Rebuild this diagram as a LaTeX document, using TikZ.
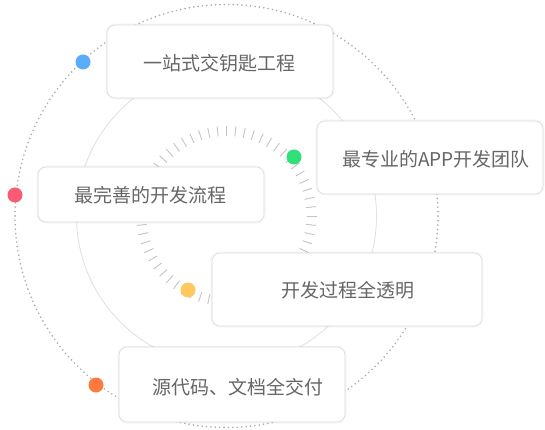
\documentclass[tikz,border=0pt]{standalone}
\usepackage{fontspec}
\newfontfamily\cjk{Noto Sans CJK SC}
\definecolor{txt}{HTML}{666666}
\definecolor{boxline}{HTML}{DADADA}
\definecolor{dotgray}{HTML}{ABABAB}
\definecolor{ringgray}{HTML}{E0E0E0}
\definecolor{tickgray}{HTML}{C4C4C4}
\definecolor{cblue}{HTML}{5AADFD}
\definecolor{cred}{HTML}{FA5A72}
\definecolor{cgreen}{HTML}{2FDF78}
\definecolor{cyellow}{HTML}{FFC95F}
\definecolor{corange}{HTML}{FF7A3F}
\begin{document}
\begin{tikzpicture}[x=1pt,y=-1pt,
  infobox/.style={draw=boxline, line width=0.6pt, fill=white, rounded corners=8pt,
    minimum width=226pt, minimum height=73pt, inner sep=0pt,
    preaction={draw=black, draw opacity=0.03, line width=3pt, fill=none}},
  lbl/.style={font=\cjk\fontsize{19}{21}\selectfont, text=txt, inner sep=0pt},
  marker/.style={circle, inner sep=0pt, minimum size=15pt},
  dotring/.style={draw=dotgray, line width=1.8pt, line cap=round, dash pattern=on 0pt off 4.4pt},
  midring/.style={draw=ringgray, line width=0.8pt},
  tickmark/.style={draw=tickgray, line width=0.9pt}
]
\useasboundingbox (0,0) rectangle (545,430);
\fill[white] (0,0) rectangle (545,430);
\coordinate (c) at (226.5,216);
% outer dotted ring
\draw[dotring] (c) circle[radius=211.5pt];
% middle thin ring
\draw[midring] (c) circle[radius=150pt];
% tick ring
\foreach \a in {0,6,...,354}
  \draw[tickmark] (c) ++(\a:80pt) -- ++(\a:10pt);
% boxes
\node[infobox] (b1) at (220,61.5) {};
\node[infobox] (b2) at (430,157.5) {};
\node[infobox, minimum height=55pt] (b3) at (151,194.5) {};
\node[infobox, minimum width=270pt] (b4) at (347,289.5) {};
\node[infobox, minimum height=75pt] (b5) at (232,384.5) {};
% labels
\node[lbl] (t1) at (219,63) {一站式交钥匙工程};
\node[lbl] (t2) at (436,159) {最专业的APP开发团队};
\node[lbl] (t3) at (150,195) {最完善的开发流程};
\node[lbl] (t4) at (348,290) {开发过程全透明};
\node[lbl] (t5) at (238,387) {源代码、文档全交付};
% coloured markers
\node[marker, fill=cblue] (m1) at (83,62) {};
\node[marker, fill=cgreen] (m2) at (294,157) {};
\node[marker, fill=cred] (m3) at (15,195) {};
\node[marker, fill=cyellow] (m4) at (188,290) {};
\node[marker, fill=corange] (m5) at (96,385) {};
\end{tikzpicture}
\end{document}
